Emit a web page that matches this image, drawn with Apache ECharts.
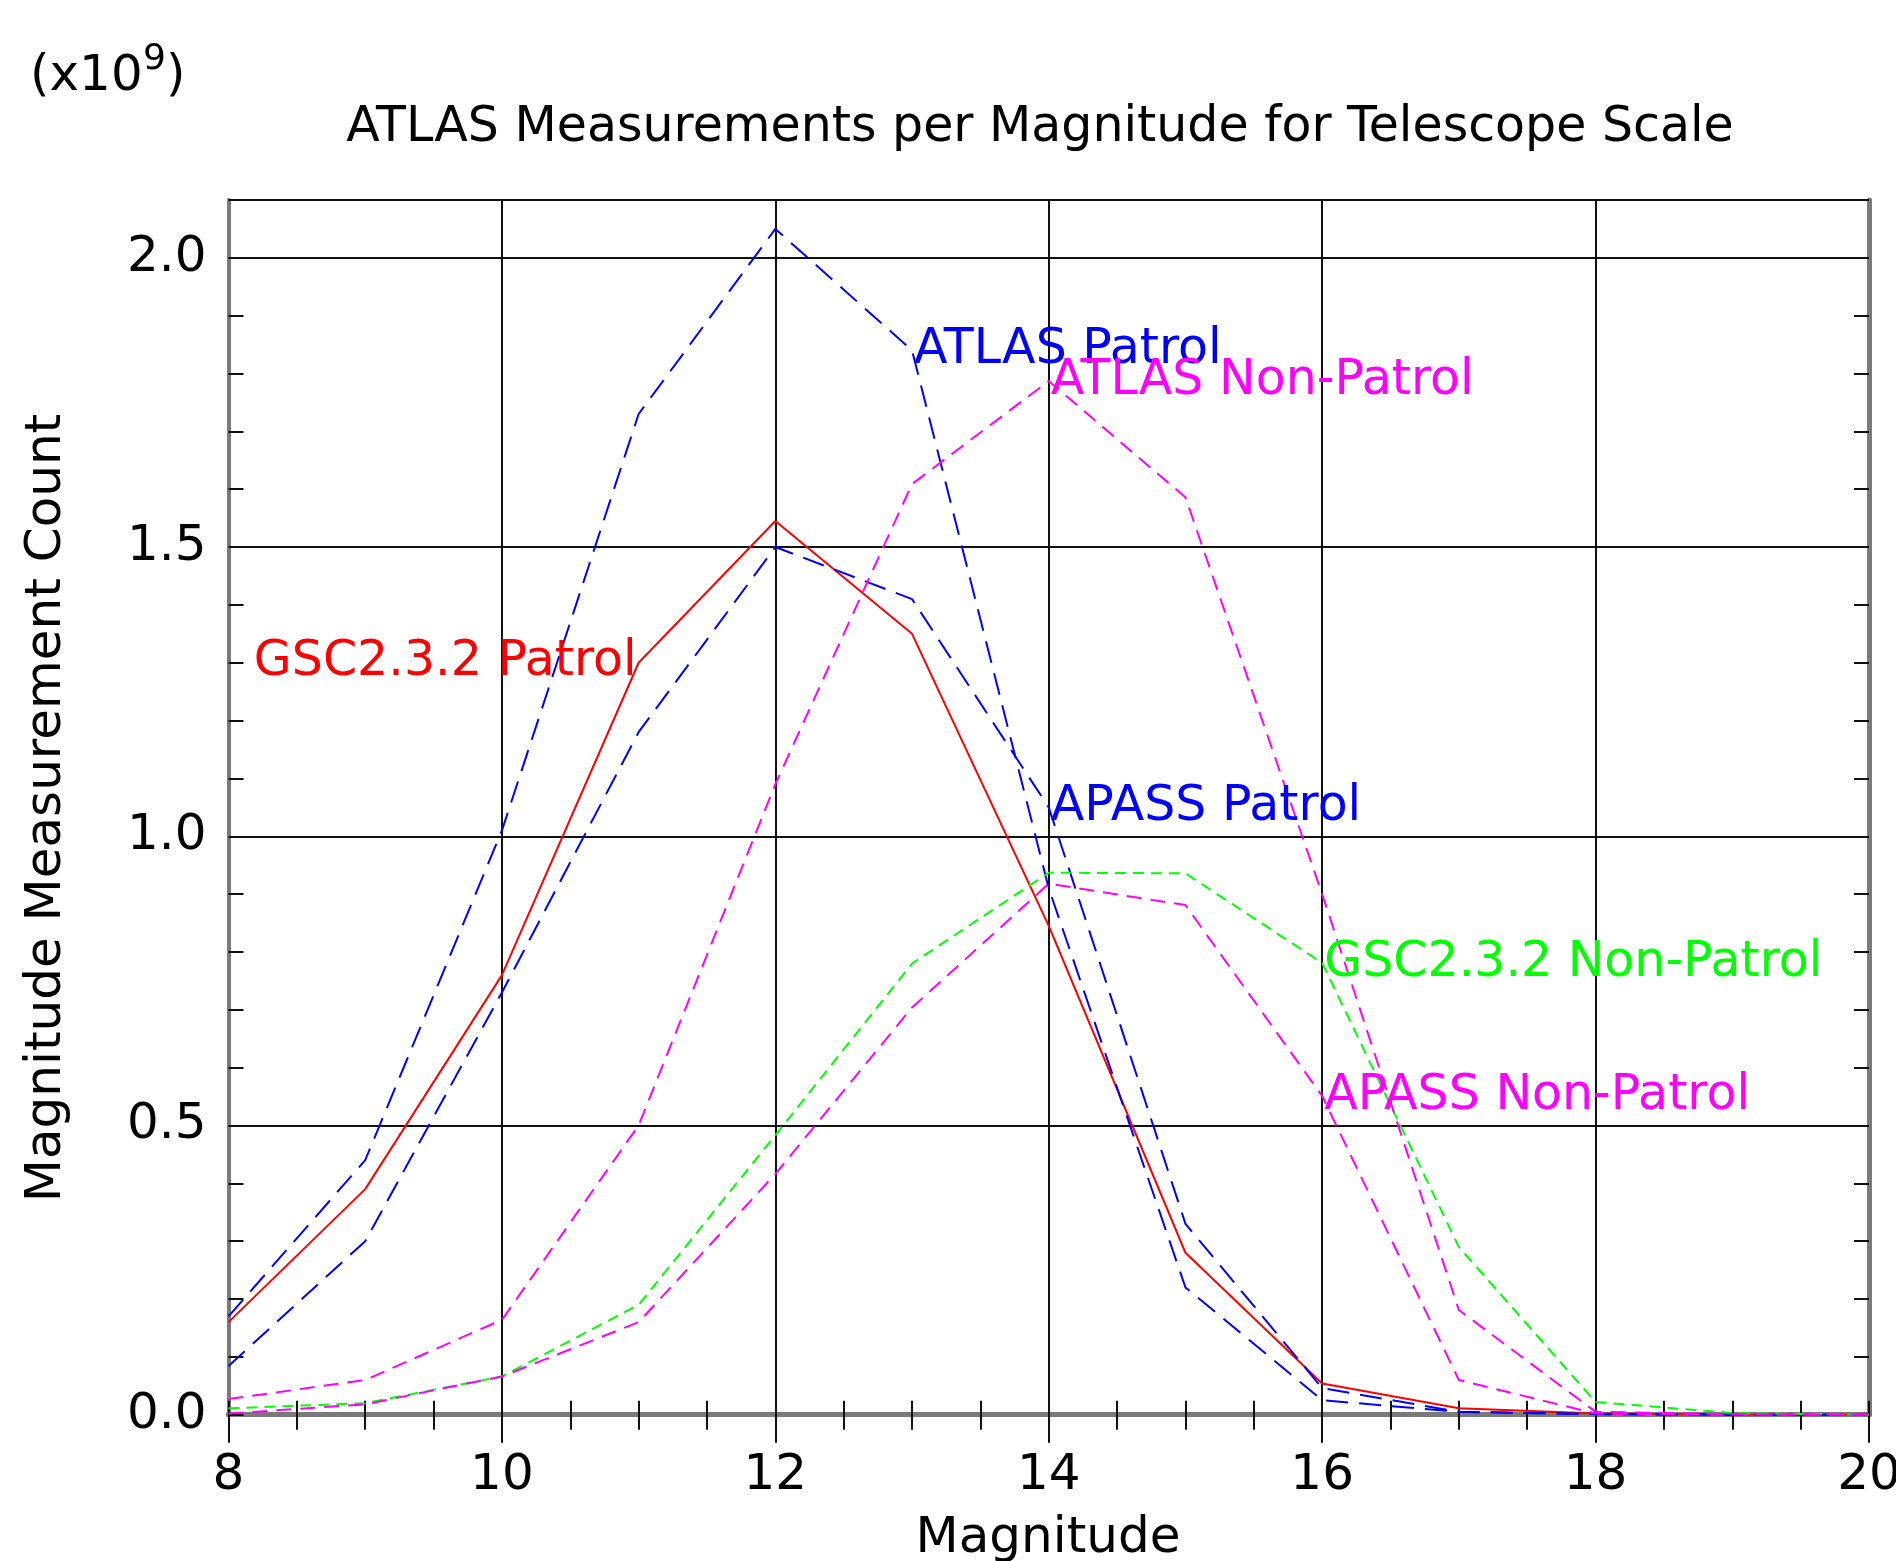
<!DOCTYPE html>
<html>
<head>
<meta charset="utf-8">
<title>ATLAS Measurements per Magnitude for Telescope Scale</title>
<script src="https://cdn.jsdelivr.net/npm/echarts@6/dist/echarts.min.js"></script>
<style>
    html, body { margin: 0; padding: 0; background: #fff; }
    #chart { width: 1896px; height: 1561px; }
</style>
</head>
<body>
<div id="chart"></div>
<script>
// magnitude bins (x) and counts in units of 1e9 (y)
var magnitudes = [8, 9, 10, 11, 12, 13, 14, 15, 16, 17, 18, 19, 20];
var gscPatrol = [0.16, 0.39, 0.76, 1.30, 1.545, 1.35, 0.845, 0.28, 0.054, 0.011, 0.002, 0, 0];
var atlasPatrol = [0.17, 0.44, 1.01, 1.73, 2.05, 1.84, 0.91, 0.22, 0.025, 0.005, 0.001, 0, 0];
var apassPatrol = [0.084, 0.30, 0.73, 1.18, 1.50, 1.41, 1.05, 0.33, 0.046, 0.005, 0.001, 0, 0];
var gscNonPatrol = [0.011, 0.02, 0.066, 0.19, 0.483, 0.78, 0.937, 0.936, 0.781, 0.29, 0.022, 0.003, 0];
var atlasNonPatrol = [0.027, 0.06, 0.164, 0.50, 1.09, 1.609, 1.787, 1.586, 0.90, 0.181, 0.005, 0.001, 0];
var apassNonPatrol = [0.002, 0.018, 0.066, 0.16, 0.416, 0.704, 0.918, 0.881, 0.551, 0.06, 0.002, 0, 0];
var yTicks = [0, 0.5, 1.0, 1.5, 2.0];

var FONT = 'DejaVu Sans';
var chart = echarts.init(document.getElementById('chart'));

var lines = [
    { name: 'GSC2.3.2 Patrol', values: gscPatrol, color: '#ff0000', dash: 'solid', labelAt: 11, pos: 'left' },
    { name: 'ATLAS Patrol', values: atlasPatrol, color: '#0000ff', dash: [22, 11], labelAt: 13, pos: 'right' },
    { name: 'APASS Patrol', values: apassPatrol, color: '#0000ff', dash: [22, 11], labelAt: 14, pos: 'right' },
    { name: 'GSC2.3.2 Non-Patrol', values: gscNonPatrol, color: '#00ff00', dash: [11, 7], labelAt: 16, pos: 'right' },
    { name: 'ATLAS Non-Patrol', values: atlasNonPatrol, color: '#ff00ff', dash: [15, 9], labelAt: 14, pos: 'right' },
    { name: 'APASS Non-Patrol', values: apassNonPatrol, color: '#ff00ff', dash: [15, 9], labelAt: 16, pos: 'right' }
];

function makeSeries(cfg) {
    var data = magnitudes.map(function (m, i) {
        var item = { value: [m, cfg.values[i]] };
        if (m === cfg.labelAt) {
            item.label = {
                show: true,
                formatter: cfg.name,
                position: cfg.pos,
                distance: 2,
                color: cfg.color,
                fontSize: 49,
                fontFamily: FONT
            };
        }
        return item;
    });
    return {
        type: 'line',
        name: cfg.name,
        xAxisIndex: 0,
        yAxisIndex: 0,
        data: data,
        symbol: 'circle',
        symbolSize: 0,
        showSymbol: true,
        silent: true,
        lineStyle: { color: cfg.color, width: 2, type: cfg.dash },
        itemStyle: { color: cfg.color },
        emphasis: { disabled: true }
    };
}

var frameGray = '#7a7a7a';
var tickBlack = '#111';
var xRange = { min: 8, max: 20, interval: 2 };
var yMax = 2.1;
var gridBox = { left: 228.5, right: 27, top: 200, bottom: 146.3, containLabel: false, outerBoundsMode: 'none' };

var option = {
    backgroundColor: '#fff',
    animation: false,
    grid: [
        Object.assign({}, gridBox),
        Object.assign({}, gridBox)
    ],
    xAxis: [
        {
            gridIndex: 0, type: 'value', position: 'bottom',
            min: xRange.min, max: xRange.max, interval: xRange.interval,
            axisLine: { lineStyle: { color: '#404040', width: 5 } },
            axisTick: { show: true, inside: false, length: 28, lineStyle: { color: tickBlack, width: 2 } },
            minorTick: { show: true, splitNumber: 4, length: 14, lineStyle: { color: tickBlack, width: 2 } },
            axisLabel: { margin: 36, fontSize: 50, color: '#000', fontFamily: FONT },
            splitLine: { show: true, lineStyle: { color: tickBlack, width: 2 } }
        },
        {
            gridIndex: 0, type: 'value', position: 'top',
            min: xRange.min, max: xRange.max, interval: xRange.interval,
            axisLine: { lineStyle: { color: frameGray, width: 5 } },
            axisTick: { show: true, inside: true, length: 28, lineStyle: { color: tickBlack, width: 2 } },
            minorTick: { show: true, splitNumber: 4, length: 15, lineStyle: { color: tickBlack, width: 2 } },
            axisLabel: { show: false },
            splitLine: { show: false }
        },
        {
            gridIndex: 1, type: 'value', position: 'bottom',
            min: xRange.min, max: xRange.max, interval: xRange.interval,
            axisLine: { show: false },
            axisTick: { show: true, inside: true, length: 14, lineStyle: { color: tickBlack, width: 2 } },
            minorTick: { show: true, splitNumber: 4, length: 14, lineStyle: { color: tickBlack, width: 2 } },
            axisLabel: { show: false },
            splitLine: { show: false }
        }
    ],
    yAxis: [
        {
            gridIndex: 0, type: 'value', position: 'left',
            min: 0, max: yMax, interval: 0.5,
            axisLine: { show: true, lineStyle: { color: frameGray, width: 4 } },
            axisTick: { show: false },
            axisLabel: {
                margin: 22, fontSize: 50, color: '#000', fontFamily: FONT,
                showMaxLabel: false,
                formatter: function (v) { return yTicks.indexOf(v) >= 0 ? v.toFixed(1) : ''; }
            },
            splitLine: { show: true, lineStyle: { color: tickBlack, width: 2 } }
        },
        {
            gridIndex: 0, type: 'value', position: 'right',
            min: 0, max: yMax, interval: 0.1,
            axisLine: { show: true, lineStyle: { color: frameGray, width: 5 } },
            axisTick: { show: true, inside: true, length: 15, lineStyle: { color: tickBlack, width: 2 } },
            axisLabel: { show: false },
            splitLine: { show: false }
        },
        {
            gridIndex: 1, type: 'value', position: 'left',
            min: 0, max: yMax, interval: 0.1,
            axisLine: { show: false },
            axisTick: { show: true, inside: true, length: 15, lineStyle: { color: tickBlack, width: 2 } },
            axisLabel: { show: false },
            splitLine: { show: false }
        }
    ],
    graphic: [
        {
            type: 'text', x: 1040, y: 128,
            style: { text: 'ATLAS Measurements per Magnitude for Telescope Scale', font: '49px "DejaVu Sans"', fill: '#000', align: 'center', verticalAlign: 'middle' }
        },
        {
            type: 'text', x: 30, y: 77,
            style: { text: '(x10', font: '50px "DejaVu Sans"', fill: '#000', align: 'left', verticalAlign: 'middle' }
        },
        {
            type: 'text', x: 143, y: 60,
            style: { text: '9', font: '36px "DejaVu Sans"', fill: '#000', align: 'left', verticalAlign: 'middle' }
        },
        {
            type: 'text', x: 166, y: 77,
            style: { text: ')', font: '50px "DejaVu Sans"', fill: '#000', align: 'left', verticalAlign: 'middle' }
        },
        {
            type: 'text', x: 47, y: 808, rotation: Math.PI / 2,
            style: { text: 'Magnitude Measurement Count', font: '50px "DejaVu Sans"', fill: '#000', align: 'center', verticalAlign: 'middle' }
        },
        {
            type: 'text', x: 1048, y: 1539,
            style: { text: 'Magnitude', font: '50px "DejaVu Sans"', fill: '#000', align: 'center', verticalAlign: 'middle' }
        }
    ],
    series: lines.map(makeSeries)
};

chart.setOption(option);
</script>
</body>
</html>
